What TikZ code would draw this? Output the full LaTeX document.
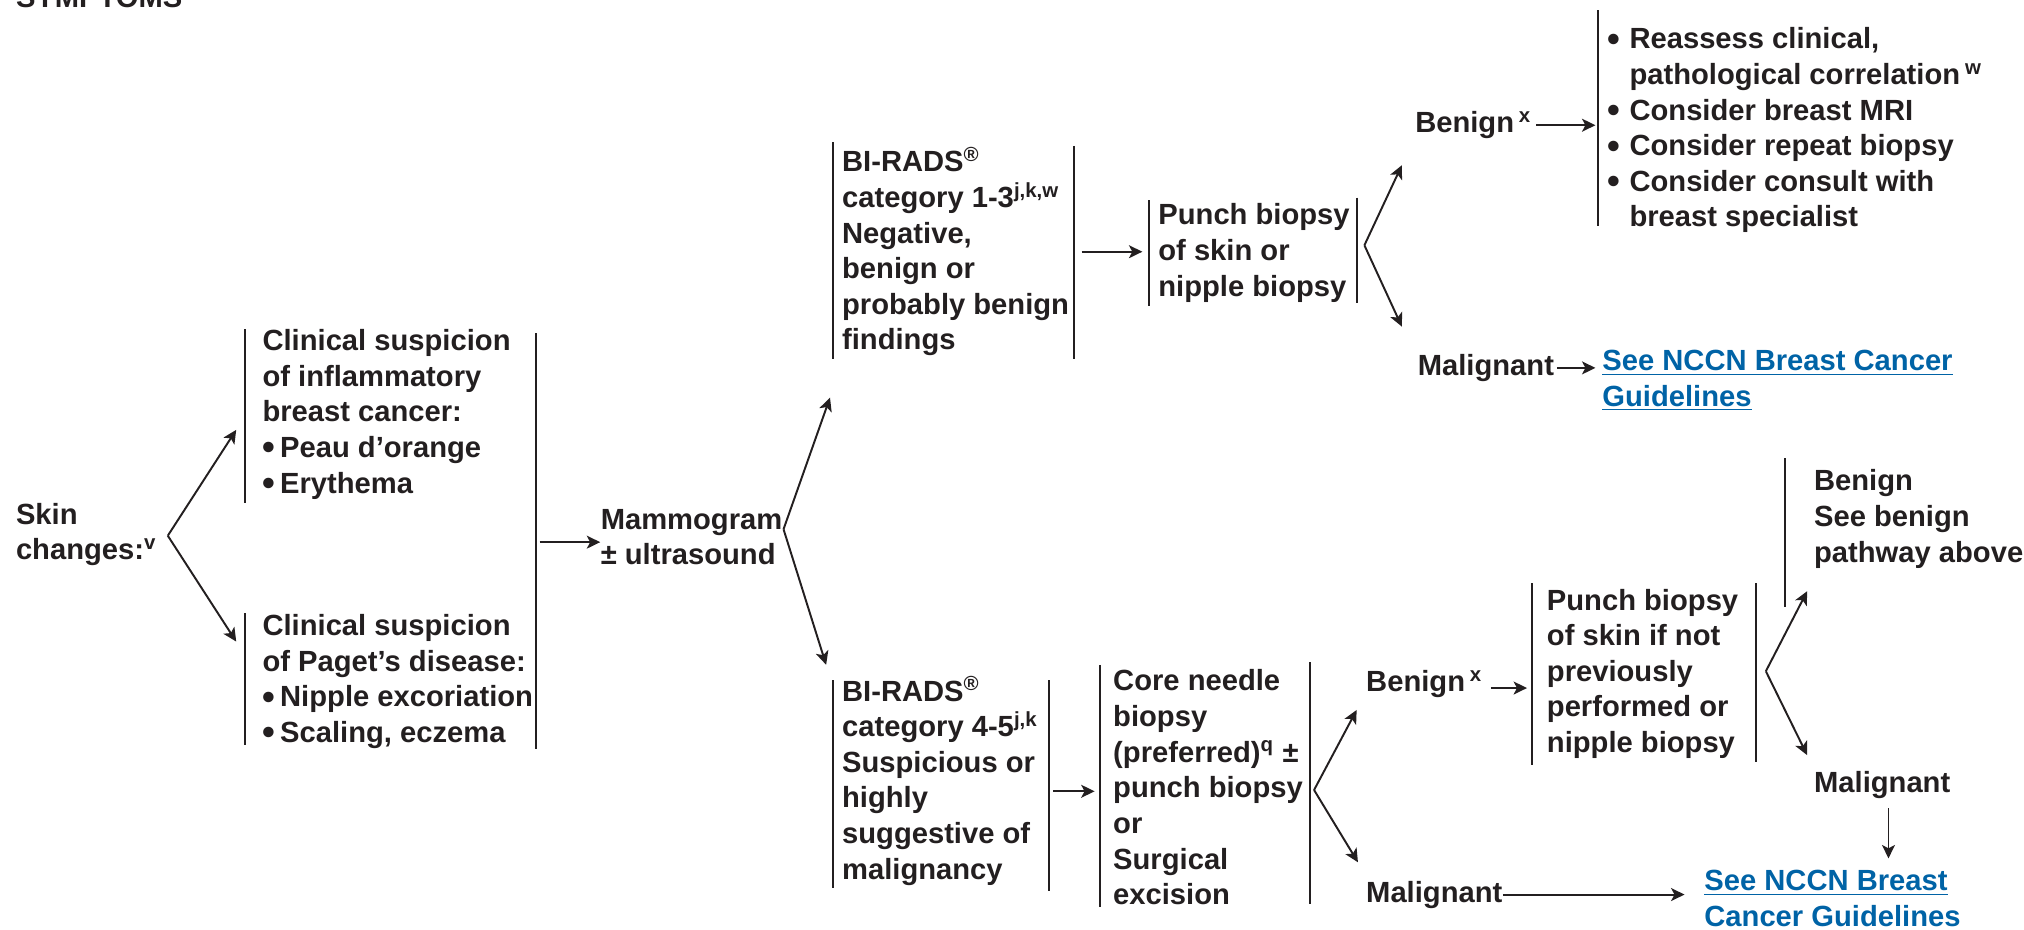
\documentclass[tikz,border=0pt]{standalone}
\usepackage{fontspec}
\setmainfont{Liberation Sans}
\usetikzlibrary{arrows.meta}
\definecolor{ink}{RGB}{35,31,32}
\definecolor{linkblue}{RGB}{0,99,166}
\newcommand{\sps}[1]{\textsuperscript{#1}}
\newcommand{\bigdot}{\raisebox{-0.9pt}{\scalebox{1.25}{\textbullet}}}
\newcommand{\bul}{\bigdot\,}
\newcommand{\lbul}{\makebox[8.5pt][l]{\bigdot}}
\begin{document}
\begin{tikzpicture}[x=0.5pt,y=-0.5pt,
  txt/.style={anchor=west, align=left, inner sep=0pt, text=ink,
              font=\fontsize{11.3}{13.8}\selectfont\bfseries},
  lnk/.style={txt, text=linkblue},
  bar/.style={draw=ink, line width=0.8pt},
  arr/.style={draw=ink, line width=0.75pt,
              -{Stealth[length=5.2pt,width=5pt,inset=1.3pt]}}]
\useasboundingbox (0,0) rectangle (1568,720);

% ---------- text blocks ----------
\node[txt, anchor=base west] (symptoms) at (12,6) {SYMPTOMS};
\node[txt] (skin) at (12,414) {Skin\\changes:\sps{v}};
\node[txt] (ibc) at (203,321) {Clinical suspicion\\of inflammatory\\breast cancer:\\\bul Peau d’orange\\\bul Erythema};
\node[txt] (paget) at (203,528) {Clinical suspicion\\of Paget’s disease:\\\bul Nipple excoriation\\\bul Scaling, eczema};
\node[txt] (mammo) at (465,416) {Mammogram\\± ultrasound};

\node[txt] (birA) at (652,195) {BI-RADS\sps{®}\\category 1-3\sps{j,k,w}\\Negative,\\benign or\\probably benign\\findings};
\node[txt] (punchA) at (897,196) {Punch biopsy\\of skin or\\nipple biopsy};
\node[txt] (benA) at (1096,97) {Benign\,\sps{x}};
\node[txt] (listA) at (1245,101) {\lbul Reassess clinical,\\\hspace*{8.5pt}pathological correlation\,\sps{w}\\\lbul Consider breast MRI\\\lbul Consider repeat biopsy\\\lbul Consider consult with\\\hspace*{8.5pt}breast specialist};
\node[txt] (malA) at (1098,285) {Malignant};
\node[lnk] (nccnA) at (1241,295) {\underline{See NCCN Breast Cancer}\\\underline{Guidelines}};

\node[txt] (birB) at (652,605) {BI-RADS\sps{®}\\category 4-5\sps{j,k}\\Suspicious or\\highly\\suggestive of\\malignancy};
\node[txt] (core) at (862,610) {Core needle\\biopsy\\(preferred)\sps{q} ±\\punch biopsy\\or\\Surgical\\excision};
\node[txt] (benB) at (1058,530) {Benign\,\sps{x}};
\node[txt] (punchB) at (1198,522) {Punch biopsy\\of skin if not\\previously\\performed or\\nipple biopsy};
\node[txt] (benC) at (1405,402) {Benign\\See benign\\pathway above};
\node[txt] (malC) at (1405,608) {Malignant};
\node[txt] (malB) at (1058,693) {Malignant};
\node[lnk] (nccnB) at (1320,698) {\underline{See NCCN Breast}\\\underline{Cancer Guidelines}};

% ---------- side bars ----------
\draw[bar] (190,255) -- (190,390);
\draw[bar] (190,475) -- (190,577);
\draw[bar] (415,258) -- (415,580);
\draw[bar] (645,110) -- (645,278);
\draw[bar] (832,113) -- (832,278);
\draw[bar] (890,155) -- (890,237);
\draw[bar] (1051,153) -- (1051,235);
\draw[bar] (1238,8) -- (1238,175);
\draw[bar] (645,527) -- (645,688);
\draw[bar] (813,527) -- (813,690);
\draw[bar] (852,515) -- (852,703);
\draw[bar] (1015,513) -- (1015,700);
\draw[bar] (1187,452) -- (1187,593);
\draw[bar] (1360,452) -- (1360,590);
\draw[bar] (1383,355) -- (1383,470);

% ---------- branch points and arrow ends ----------
\coordinate (fSkin) at (130,415);
\coordinate (tIbc) at (183,333);
\coordinate (tPaget) at (183,497);
\coordinate (fMammo) at (607,410);
\coordinate (tBirA) at (643,308);
\coordinate (tBirB) at (640,515);
\coordinate (fPunchA) at (1057,190);
\coordinate (tBenA) at (1086,128);
\coordinate (tMalA) at (1086,253);
\coordinate (fCore) at (1018,612);
\coordinate (tBenB) at (1051,550);
\coordinate (tMalB) at (1052,668);
\coordinate (fPunchB) at (1368,520);
\coordinate (tBenC) at (1400,458);
\coordinate (tMalC) at (1400,585);

% ---------- connectors ----------
\draw[arr] (fSkin) -- (tIbc);
\draw[arr] (fSkin) -- (tPaget);
\draw[arr] (418,420) -- (mammo.west |- 0,420);
\draw[arr] (fMammo) -- (tBirA);
\draw[arr] (fMammo) -- (tBirB);
\draw[arr] (838,195) -- (885,195);
\draw[arr] (fPunchA) -- (tBenA);
\draw[arr] (fPunchA) -- (tMalA);
\draw[arr] (1190,97) -- (1236,97);
\draw[arr] (malA.east) ++(2,0) -- (1236,285);
\draw[arr] (816,613) -- (848,613);
\draw[arr] (fCore) -- (tBenB);
\draw[arr] (fCore) -- (tMalB);
\draw[arr] (1155,533) -- (1183,533);
\draw[arr] (fPunchB) -- (tBenC);
\draw[arr] (fPunchB) -- (tMalC);
\draw[arr] (1463,626) -- (1463,665);
\draw[arr] (malB.east) -- (1305,693);
\end{tikzpicture}
\end{document}
